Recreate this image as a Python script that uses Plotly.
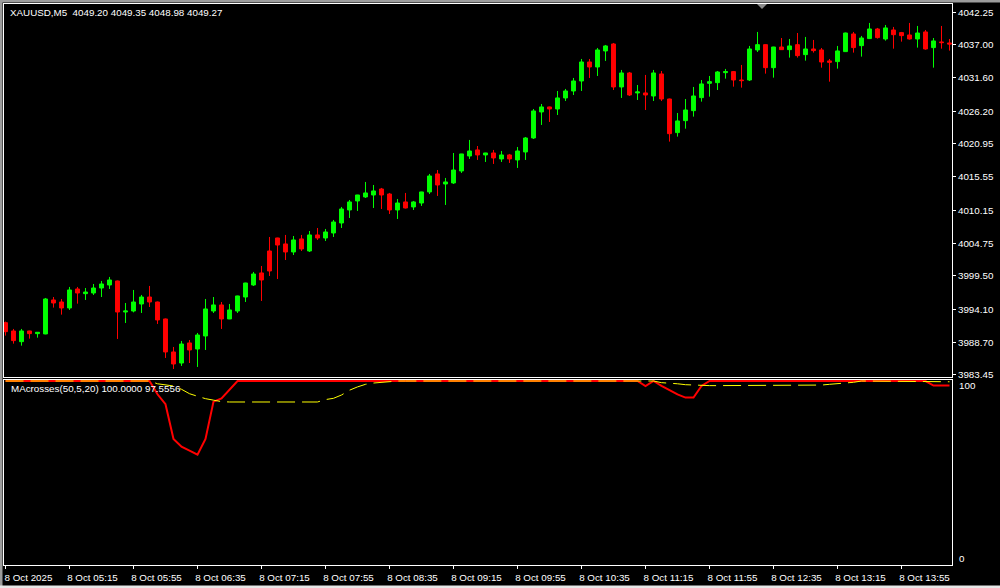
import pandas as pd
import plotly.graph_objects as go

# ---------------- data ----------------
start_time = "2025-10-08 04:35"
n_bars = 119
times = pd.date_range(start_time, periods=n_bars, freq="5min")

open_ = [3991.93, 3990.58, 3988.85, 3990.58, 3990.15, 3990.10, 3995.61, 3995.28, 3994.31, 3997.39,
         3996.63, 3996.74, 3997.55, 3998.04, 3998.69, 3993.66, 3993.82, 3994.96, 3996.09, 3995.28,
         3992.53, 3987.18, 3985.39, 3988.64, 3987.66, 3989.77, 3993.82, 3994.80, 3992.53, 3993.82,
         3996.09, 3998.04, 3999.99, 4003.55, 4005.66, 4004.69, 4003.39, 4005.50, 4003.55, 4006.15,
         4005.66, 4006.47, 4008.09, 4010.20, 4011.66, 4012.31, 4012.63, 4013.60, 4012.79, 4010.20,
         4011.50, 4010.69, 4011.33, 4013.12, 4016.04, 4014.41, 4014.58, 4016.52, 4018.95, 4019.93,
         4019.12, 4019.44, 4018.47, 4019.12, 4018.31, 4019.60, 4021.87, 4026.09, 4026.90, 4026.57,
         4028.36, 4029.49, 4031.11, 4034.19, 4033.38, 4035.98, 4037.11, 4030.14, 4032.41, 4029.17,
         4029.17, 4028.68, 4032.25, 4028.19, 4022.74, 4024.68, 4026.30, 4028.41, 4030.73, 4030.84,
         4032.46, 4032.63, 4031.27, 4031.27, 4036.14, 4037.00, 4033.27, 4036.62, 4036.19, 4037.00,
         4035.38, 4036.30, 4036.14, 4034.36, 4034.25, 4035.87, 4038.73, 4036.84, 4037.98, 4039.54,
         4037.92, 4039.38, 4038.95, 4038.57, 4037.92, 4039.06, 4036.52, 4037.44, 4037.27]
high = [3992.10, 3990.91, 3990.91, 3990.62, 3990.40, 3995.93, 3996.09, 3995.77, 3997.72, 3997.72,
        3997.55, 3998.20, 3998.69, 3999.34, 3998.75, 3995.12, 3997.23, 3996.42, 3997.88, 3995.35,
        3992.60, 3987.99, 3988.96, 3989.12, 3990.26, 3995.77, 3996.09, 3995.28, 3994.96, 3996.30,
        3998.40, 4000.15, 4001.12, 4005.82, 4005.70, 4006.15, 4005.98, 4006.15, 4006.79, 4007.28,
        4007.12, 4008.58, 4010.69, 4011.82, 4012.65, 4014.74, 4014.25, 4013.77, 4012.96, 4011.98,
        4012.96, 4011.66, 4013.15, 4016.04, 4016.68, 4015.39, 4019.44, 4019.30, 4021.55, 4020.57,
        4019.46, 4019.93, 4019.76, 4019.28, 4020.41, 4022.03, 4026.57, 4027.38, 4026.95, 4029.49,
        4029.82, 4031.60, 4034.68, 4034.68, 4036.46, 4036.95, 4037.27, 4032.90, 4032.57, 4030.46,
        4032.09, 4032.90, 4032.73, 4028.25, 4025.92, 4028.19, 4030.14, 4031.27, 4031.92, 4032.73,
        4033.06, 4032.73, 4033.71, 4036.79, 4039.06, 4037.05, 4036.65, 4038.08, 4037.92, 4038.89,
        4038.25, 4037.76, 4036.46, 4034.68, 4036.79, 4038.95, 4039.06, 4038.41, 4040.52, 4039.71,
        4040.19, 4039.87, 4039.06, 4040.52, 4040.03, 4039.38, 4038.08, 4040.03, 4037.92]
low = [3989.83, 3988.53, 3988.20, 3989.34, 3989.50, 3990.05, 3994.37, 3993.23, 3993.99, 3995.01,
       3995.61, 3996.42, 3996.09, 3997.39, 3989.29, 3991.88, 3993.60, 3993.50, 3994.47, 3991.72,
       3986.21, 3984.42, 3984.91, 3985.39, 3984.75, 3987.50, 3993.50, 3990.91, 3992.50, 3993.50,
       3995.28, 3997.88, 3995.45, 3999.50, 3999.01, 4002.09, 4002.90, 4003.55, 4003.39, 4005.34,
       4005.17, 4005.82, 4007.28, 4008.90, 4010.04, 4012.14, 4010.52, 4010.36, 4009.55, 4008.74,
       4010.45, 4010.20, 4010.85, 4012.79, 4012.47, 4011.01, 4014.41, 4016.20, 4018.47, 4018.31,
       4017.98, 4017.66, 4017.98, 4017.82, 4017.01, 4018.31, 4021.71, 4023.98, 4024.47, 4025.60,
       4027.87, 4028.84, 4029.49, 4031.60, 4031.92, 4034.36, 4029.65, 4028.36, 4028.68, 4028.03,
       4026.41, 4027.87, 4027.87, 4021.28, 4022.09, 4023.38, 4025.33, 4027.76, 4028.57, 4029.65,
       4031.49, 4030.19, 4030.03, 4031.11, 4035.81, 4032.30, 4031.65, 4036.15, 4034.90, 4034.90,
       4034.41, 4035.71, 4033.27, 4031.00, 4033.11, 4035.82, 4035.71, 4035.06, 4037.92, 4037.98,
       4037.65, 4036.35, 4037.49, 4037.81, 4036.52, 4036.19, 4033.27, 4036.35, 4036.03]
close = [3990.47, 3989.02, 3990.58, 3990.15, 3990.37, 3995.77, 3995.12, 3994.31, 3997.23, 3996.74,
         3996.90, 3997.55, 3998.20, 3998.85, 3993.66, 3993.82, 3995.28, 3996.09, 3995.28, 3992.37,
         3987.18, 3985.23, 3988.47, 3987.50, 3989.93, 3994.15, 3994.80, 3992.53, 3993.99, 3996.26,
         3998.36, 3999.82, 3998.85, 4000.31, 4004.52, 4003.39, 4005.34, 4003.88, 4006.15, 4005.66,
         4006.63, 4008.25, 4010.36, 4011.50, 4012.63, 4012.96, 4013.28, 4012.63, 4010.20, 4011.33,
         4010.52, 4011.50, 4013.12, 4015.71, 4014.25, 4014.74, 4016.68, 4019.28, 4019.76, 4019.12,
         4019.44, 4018.63, 4019.12, 4018.47, 4019.76, 4021.87, 4026.25, 4026.90, 4026.57, 4028.36,
         4029.49, 4031.11, 4034.19, 4033.38, 4036.14, 4036.79, 4030.14, 4032.41, 4028.84, 4029.33,
         4028.84, 4032.41, 4028.19, 4022.57, 4024.63, 4026.41, 4028.68, 4030.63, 4031.00, 4032.57,
         4032.63, 4031.27, 4031.17, 4036.30, 4037.00, 4033.27, 4036.62, 4036.19, 4036.79, 4035.22,
         4036.30, 4036.03, 4034.19, 4034.14, 4035.98, 4038.89, 4036.52, 4038.08, 4039.54, 4038.14,
         4039.71, 4038.62, 4038.46, 4037.92, 4038.89, 4036.30, 4037.60, 4037.33, 4037.11]

ma_red = ([100.0] * 19
          + [92.8, 87.4, 68.5, 64.3, 62.2, 60.0, 68.5, 88.8, 90.6, 95.5]
          + [100.0] * 51
          + [97.3, 100.0, 97.4, 95.1, 92.7, 91.0, 91.0, 97.3]
          + [100.0] * 28
          + [97.5556, 97.5556, 97.5556])
ma_yellow = ([100.0] * 19
             + [98.5, 97.8, 97.3, 95.5, 93.1, 91.7, 90.4, 89.6, 88.8]
             + [88.6] * 12
             + [89.9, 90.6, 92.4, 95.0, 96.8, 98.2, 98.9, 99.3]
             + [100.0] * 34
             + [99.1, 98.9, 98.5, 98.0, 97.7]
             + [97.5] * 15
             + [97.8, 98.2, 98.5, 98.8, 99.3]
             + [100.0] * 9
             + [99.9, 99.8, 99.6])

price_ticks = [4042.25, 4037.00, 4031.60, 4026.20, 4020.95, 4015.55,
               4010.15, 4004.75, 3999.50, 3994.10, 3988.70, 3983.45]
time_labels = ["8 Oct 2025", "8 Oct 05:15", "8 Oct 05:55", "8 Oct 06:35", "8 Oct 07:15",
               "8 Oct 07:55", "8 Oct 08:35", "8 Oct 09:15", "8 Oct 09:55", "8 Oct 10:35",
               "8 Oct 11:15", "8 Oct 11:55", "8 Oct 12:35", "8 Oct 13:15", "8 Oct 13:55"]
time_ticks = list(times[::8])

header_text = "XAUUSD,M5\u00a0 4049.20 4049.35 4048.98 4049.27"
ind_text = "MAcrosses(50,5,20) 100.0000 97.5556"

# ---------------- layout geometry ----------------
W, H = 1000, 588
ML, MR, MT, MB = 4, 48, 4, 23
PW, PH = W - ML - MR, H - MT - MB          # 948 x 561
main_dom = [(PH + MT - 377) / PH, 1.0]
ind_dom = [0.0, (PH + MT - 380) / PH]

bar = pd.Timedelta(minutes=5)
x_range = [times[0] - 0.1875 * bar, times[0] + 118.3125 * bar]

FONT = "Liberation Sans"
FS = 9.8
WHITE = "#FFFFFF"


def px_x(px):
    return (px - ML) / PW


def px_y(py):
    return (PH + MT - py) / PH


fig = go.Figure()
fig.add_trace(go.Candlestick(
    x=times, open=open_, high=high, low=low, close=close,
    increasing=dict(line=dict(color="#00FF00", width=1), fillcolor="#00FF00"),
    decreasing=dict(line=dict(color="#FF0000", width=1), fillcolor="#FF0000"),
    xaxis="x", yaxis="y", showlegend=False, hoverinfo="skip",
))
fig.add_trace(go.Scatter(
    x=times, y=ma_red, mode="lines", line=dict(color="#FF0000", width=2),
    xaxis="x2", yaxis="y2", showlegend=False, hoverinfo="skip",
))
fig.add_trace(go.Scatter(
    x=times, y=ma_yellow, mode="lines",
    line=dict(color="#FFFF00", width=1, dash="18px,7px"),
    xaxis="x2", yaxis="y2", showlegend=False, hoverinfo="skip",
))

axis_common = dict(showgrid=False, zeroline=False, showline=True, mirror=True,
                   linecolor=WHITE, linewidth=1)

fig.update_layout(
    width=W, height=H,
    margin=dict(l=ML, r=MR, t=MT, b=MB, pad=0),
    paper_bgcolor="#000000", plot_bgcolor="#000000",
    font=dict(family=FONT, size=FS, color=WHITE),
    showlegend=False,
    xaxis=dict(domain=[0, 1], anchor="y", range=x_range, type="date",
               showticklabels=False, ticks="", rangeslider=dict(visible=False),
               **axis_common),
    yaxis=dict(domain=main_dom, anchor="x", side="right",
               range=[3983.12, 4043.59], tickvals=price_ticks, tickformat=".2f",
               ticks="outside", ticklen=3, tickcolor=WHITE,
               tickfont=dict(family=FONT, size=FS, color=WHITE), **axis_common),
    xaxis2=dict(domain=[0, 1], anchor="y2", matches="x", range=x_range, type="date",
                tickvals=time_ticks, ticktext=time_labels,
                ticks="outside", ticklen=3, tickcolor=WHITE, ticklabelshift=23,
                tickfont=dict(family=FONT, size=FS, color=WHITE), **axis_common),
    yaxis2=dict(domain=ind_dom, anchor="x2", side="right", range=[0, 100.55],
                showticklabels=False, ticks="", **axis_common),
)

annos = [
    dict(text=header_text, xref="paper", yref="paper", x=px_x(7.5), y=px_y(12.7),
         xanchor="left", yanchor="middle", showarrow=False),
    dict(text=ind_text, xref="paper", yref="paper", x=px_x(8.5), y=px_y(388.3),
         xanchor="left", yanchor="middle", showarrow=False),
    dict(text="100", xref="paper", yref="y2", x=px_x(956.5), y=100,
         xanchor="left", yanchor="middle", yshift=-4.5, showarrow=False),
    dict(text="0", xref="paper", yref="y2", x=px_x(956.5), y=0,
         xanchor="left", yanchor="middle", yshift=6.3, showarrow=False),
]
fig.update_layout(annotations=annos)

# window frame strips and chart-shift marker
GRAY = "#9C9C9C"
shapes = [
    dict(type="rect", xref="paper", yref="paper", x0=px_x(0), x1=px_x(2.5),
         y0=px_y(H), y1=px_y(0), fillcolor=GRAY, line=dict(width=0), layer="above"),
    dict(type="rect", xref="paper", yref="paper", x0=px_x(0), x1=px_x(W),
         y0=px_y(2.5), y1=px_y(0), fillcolor=GRAY, line=dict(width=0), layer="above"),
    dict(type="rect", xref="paper", yref="paper", x0=px_x(0), x1=px_x(W),
         y0=px_y(H), y1=px_y(585.5), fillcolor="#E8E8E8", line=dict(width=0), layer="above"),
    dict(type="path", xref="paper", yref="paper",
         path="M {a},{b} L {c},{b} L {d},{e} Z".format(a=px_x(757), c=px_x(767), d=px_x(762),
                                                       b=px_y(4), e=px_y(9)),
         fillcolor="#8C8C8C", line=dict(width=0), layer="above"),
]
fig.update_layout(shapes=shapes)

fig.write_html("out.html", config={"displayModeBar": False},
               post_script="document.body.style.margin='0';document.body.style.background='#000';")
